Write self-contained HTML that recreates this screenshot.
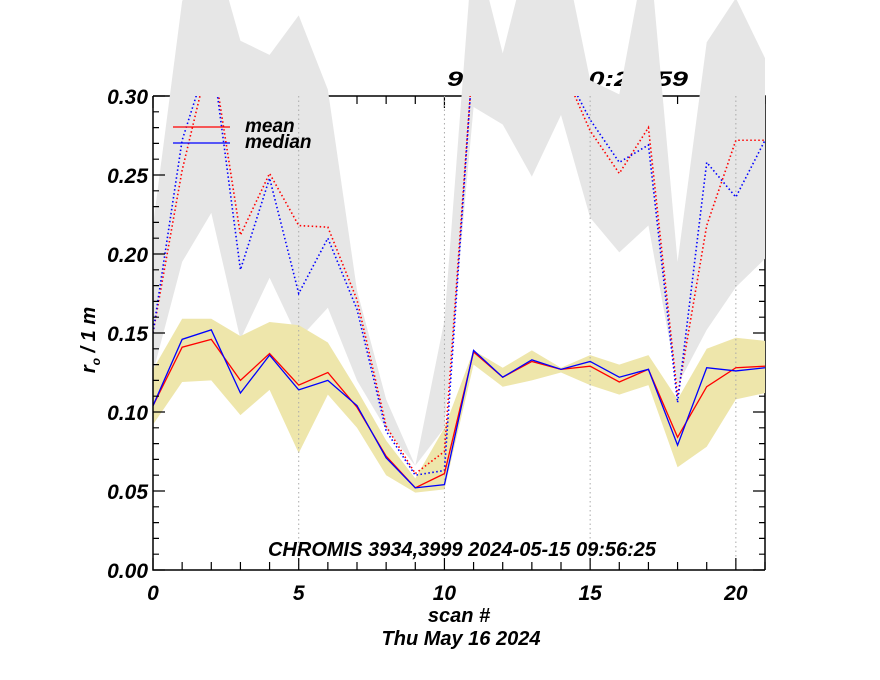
<!DOCTYPE html>
<html><head><meta charset="utf-8"><style>
html,body{margin:0;padding:0;background:#fff;}
svg{display:block;font-family:"Liberation Sans",sans-serif;font-weight:bold;font-style:italic;}
</style></head><body>
<svg id="chart" width="880" height="680" viewBox="0 0 880 680">
<defs><clipPath id="plotclip"><rect x="153" y="96" width="612" height="474"/></clipPath>
<clipPath id="xclip"><rect x="153" y="0" width="612" height="570"/></clipPath></defs>
<text x="447" y="86" font-size="21" textLength="241" lengthAdjust="spacingAndGlyphs">9:56:25 - 10:22:59</text>
<g id="layers"></g>
</svg>
<script>
const scans=[0,1,2,3,4,5,6,7,8,9,10,11,12,13,14,15,16,17,18,19,20,21];
const greyUpper=[0.218,0.36,0.40,0.335,0.326,0.351,0.304,0.177,0.108,0.066,0.158,0.40,0.327,0.40,0.40,0.310,0.301,0.40,0.195,0.334,0.362,0.324];
const greyLower=[0.125,0.195,0.226,0.146,0.185,0.146,0.166,0.120,0.089,0.066,0.09,0.293,0.282,0.249,0.288,0.223,0.201,0.218,0.117,0.152,0.179,0.197];
const yellowUpper=[0.127,0.159,0.159,0.148,0.157,0.155,0.144,0.114,0.082,0.058,0.09,0.139,0.128,0.139,0.128,0.136,0.130,0.136,0.108,0.140,0.147,0.145];
const yellowLower=[0.092,0.119,0.120,0.098,0.114,0.074,0.111,0.090,0.060,0.049,0.051,0.130,0.116,0.120,0.125,0.117,0.111,0.117,0.065,0.078,0.108,0.112];
const meanSolid=[0.104,0.141,0.146,0.120,0.137,0.117,0.125,0.103,0.072,0.052,0.061,0.138,0.122,0.132,0.127,0.129,0.119,0.127,0.084,0.116,0.128,0.129];
const medianSolid=[0.104,0.146,0.152,0.112,0.136,0.114,0.120,0.104,0.071,0.052,0.054,0.139,0.122,0.133,0.127,0.132,0.122,0.127,0.079,0.128,0.126,0.128];
const meanDotted=[0.150,0.253,0.33,0.212,0.251,0.218,0.217,0.171,0.091,0.061,0.075,0.33,0.34,0.34,0.32,0.278,0.251,0.280,0.11,0.218,0.272,0.272];
const medianDotted=[0.150,0.272,0.33,0.190,0.248,0.175,0.210,0.165,0.088,0.060,0.063,0.33,0.34,0.34,0.32,0.285,0.258,0.269,0.106,0.258,0.236,0.272];
const yTicks=["0.00","0.05","0.10","0.15","0.20","0.25","0.30"];
const xTicks=["0","5","10","15","20"];

const X0=153,X1=765,Y0=570,Y1=96;
const xs=v=>X0+(X1-X0)*v/21;
const ys=v=>Y0-(Y0-Y1)*v/0.30;
const NS="http://www.w3.org/2000/svg";
const root=document.getElementById('layers');
function mk(tag,attrs,parent){const e=document.createElementNS(NS,tag);for(const k in attrs)e.setAttribute(k,attrs[k]);(parent||root).appendChild(e);return e;}
function band(up,lo,fill,clip){let p=scans.map((s,i)=>xs(s)+','+ys(up[i])).concat(scans.slice().reverse().map(s=>xs(s)+','+ys(lo[s])));return mk('polygon',{points:p.join(' '),fill:fill,'clip-path':clip});}
function line(vals,color,dash){return mk('polyline',{points:scans.map((s,i)=>xs(s)+','+ys(vals[i])).join(' '),fill:'none',stroke:color,'stroke-width':dash?1.6:1.3,'stroke-dasharray':dash?'1.5 2.5':'none','clip-path':'url(#plotclip)'});}

const topAx=mk('path',{d:`M${X0},${Y1}H${X1}V${Y0}`,stroke:'#000','stroke-width':1.5,fill:'none'});


let td='';
for(let i=0;i<=21;i++){const L=i%5==0?12:8;td+=`M${xs(i)},${Y1}v${L}`;}
for(let j=0;j<=30;j++){const L=j%5==0?12:6;td+=`M${X1},${ys(j*0.01)}h${-L}`;}
const tt=mk('path',{d:td,stroke:'#000','stroke-width':1.2});



const g1=band(greyUpper,greyLower,'#e6e6e6','url(#xclip)');


const y1=band(yellowUpper,yellowLower,'#eee6ab','url(#plotclip)');



xTicks.forEach(t=>{const g=mk('line',{x1:xs(+t),x2:xs(+t),y1:Y1,y2:Y0,stroke:'#aaa','stroke-width':1,'stroke-dasharray':'1.5 3'});

});

const d1=line(meanDotted,'#ff0000',true);


const d2=line(medianDotted,'#0000ff',true);


const l1=line(meanSolid,'#ff0000',false);


const l2=line(medianSolid,'#0000ff',false);



const ax=mk('path',{d:`M${X0},${Y1}V${Y0}H${X1}`,stroke:'#000','stroke-width':1.5,fill:'none'});


let bd='';
for(let i=0;i<=21;i++){const L=i%5==0?12:8;bd+=`M${xs(i)},${Y0}v${-L}`;}
for(let j=0;j<=30;j++){const L=j%5==0?12:6;bd+=`M${X0},${ys(j*0.01)}h${L}`;}
const bt=mk('path',{d:bd,stroke:'#000','stroke-width':1.2});



yTicks.forEach(t=>{const e=mk('text',{x:148,y:ys(+t)+8,'font-size':21,'text-anchor':'end'});e.textContent=t;

});
xTicks.forEach(t=>{const e=mk('text',{x:xs(+t),y:600,'font-size':21,'text-anchor':'middle'});e.textContent=t;

});

const lg=mk('g',{});


mk('line',{x1:173,x2:230,y1:127,y2:127,stroke:'#ff0000','stroke-width':1.3},lg);
mk('line',{x1:173,x2:230,y1:143,y2:143,stroke:'#0000ff','stroke-width':1.3},lg);
const lt1=mk('text',{x:245,y:132,'font-size':19},lg);lt1.textContent='mean';


const lt2=mk('text',{x:245,y:148,'font-size':19},lg);lt2.textContent='median';



const an=mk('text',{x:462,y:556,'font-size':20,'text-anchor':'middle'});an.textContent='CHROMIS 3934,3999 2024-05-15 09:56:25';


const xt=mk('text',{x:459,y:622,'font-size':20,'text-anchor':'middle'});xt.textContent='scan #';


const dt=mk('text',{x:461,y:645,'font-size':20,'text-anchor':'middle'});dt.textContent='Thu May 16 2024';


const yt=mk('text',{transform:'translate(95,340) rotate(-90)','font-size':20,'text-anchor':'middle'});
yt.innerHTML='r<tspan font-size="12" dy="5">o</tspan><tspan dy="-5"> / 1 m</tspan>';


</script>
</body></html>
